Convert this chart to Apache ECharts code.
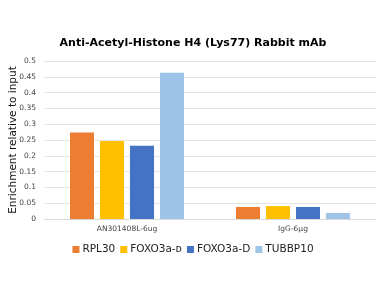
<!DOCTYPE html>
<html><head><meta charset="utf-8">
<script src="https://cdn.jsdelivr.net/npm/echarts@6/dist/echarts.min.js"></script>
<style>html,body{margin:0;padding:0;background:#fff}#c{width:386px;height:284px}</style>
</head><body><div id="c"></div>
<script>
const categories = ['AN301408L-6ug', 'IgG-6μg'];
const seriesNames = ['RPL30', 'FOXO3a-ᴅ', 'FOXO3a-D', 'TUBBP10'];
const rpl30 = [0.274, 0.038];
const foxo3aP = [0.247, 0.041];
const foxo3aD = [0.232, 0.038];
const tubbp10 = [0.463, 0.019];
const colors = ['#ED7D31', '#FFC000', '#4472C4', '#9DC3E6'];
const values = [rpl30, foxo3aP, foxo3aD, tubbp10];

const font = '"DejaVu Sans", Verdana, sans-serif';
const chart = echarts.init(document.getElementById('c'));
chart.setOption({
  animation: false,
  title: {
    text: 'Anti-Acetyl-Histone H4 (Lys77) Rabbit mAb',
    left: 'center', top: 33,
    textStyle: { fontFamily: font, fontSize: 11, fontWeight: 'bold', color: '#000' }
  },
  legend: {
    bottom: 24, left: 'center',
    itemWidth: 7, itemHeight: 7, itemGap: 5,
    icon: 'rect',
    textStyle: { fontFamily: font, fontSize: 10.5, color: '#222', padding: [0, 0, 0, -2] },
    data: seriesNames
  },
  grid: { left: 44, right: 10, top: 61, bottom: 65, outerBoundsMode: 'none', containLabel: false },
  xAxis: {
    type: 'category', data: categories,
    axisLine: { show: true, lineStyle: { color: '#d9d9d9' } },
    axisTick: { show: false },
    axisLabel: { fontFamily: font, fontSize: 7.5, color: '#444', margin: 6 }
  },
  yAxis: {
    type: 'value', min: 0, max: 0.5, interval: 0.05,
    name: 'Enrichment relative to input', nameLocation: 'middle', nameGap: 25,
    nameMoveOverlap: false,
    nameTextStyle: { fontFamily: font, fontSize: 10.5, color: '#111' },
    axisLine: { show: false }, axisTick: { show: false },
    axisLabel: { fontFamily: font, fontSize: 7.5, color: '#444', margin: 8,
      formatter: v => String(Math.round(v * 100) / 100) },
    splitLine: { lineStyle: { color: '#e4e4e4' } }
  },
  series: seriesNames.map((n, i) => ({
    name: n, type: 'bar', data: values[i],
    barWidth: 24, barGap: '25%',
    itemStyle: { color: colors[i] }
  }))
});
</script></body></html>
